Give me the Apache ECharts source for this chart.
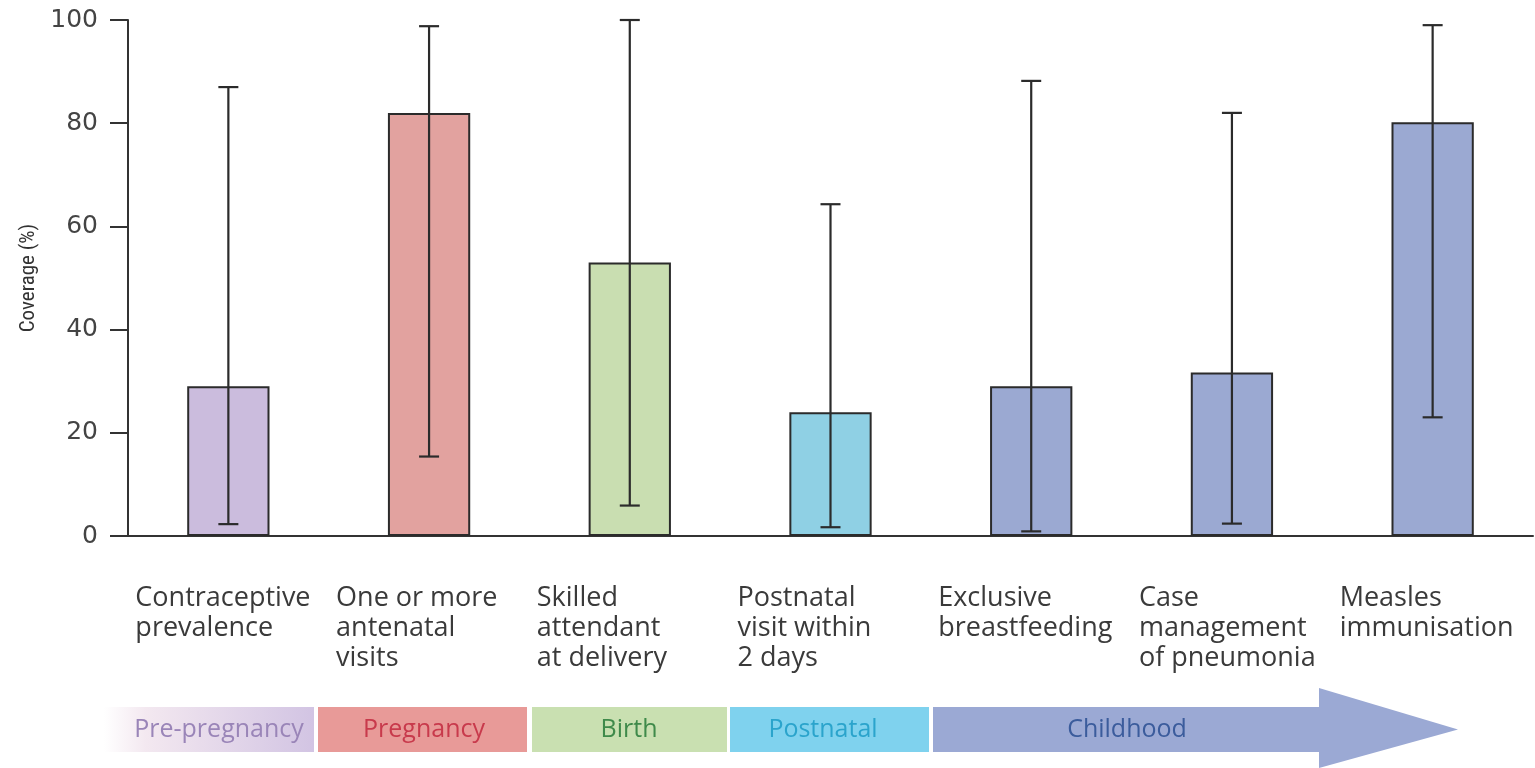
<!DOCTYPE html>
<html><head><meta charset="utf-8">
<script src="https://cdn.jsdelivr.net/npm/echarts@6/dist/echarts.min.js"></script>
<style>html,body{margin:0;padding:0;background:#fff}#c{width:1535px;height:768px}</style>
</head><body><div id="c"></div>
<script>
const categories = [
  "Contraceptive\nprevalence",
  "One or more\nantenatal\nvisits",
  "Skilled\nattendant\nat delivery",
  "Postnatal\nvisit within\n2 days",
  "Exclusive\nbreastfeeding",
  "Case\nmanagement\nof pneumonia",
  "Measles\nimmunisation"
];
const coverage = [29, 82, 53, 24, 29, 31.7, 80.2];
const lowerBound = [2.3, 15.4, 5.9, 1.7, 0.9, 2.4, 23];
const upperBound = [87, 98.8, 100, 64.3, 88.2, 82, 99];
const barColors = ["#cbbcdd", "#e2a29f", "#c9deb1", "#8fd0e4", "#9ba9d2", "#9ba9d2", "#9ba9d2"];
const yTicks = [0, 20, 40, 60, 80, 100];
const stages = ["Pre-pregnancy", "Pregnancy", "Birth", "Postnatal", "Childhood"];
const stageTextColors = ["#9a85b8", "#c83a4c", "#3f8a4a", "#2ba4cc", "#3b5c9c"];
const stageFill = ["#d4c6e4", "#e89a98", "#c9e0b1", "#7fd2ee", "#9ba9d4"];

const chart = echarts.init(document.getElementById('c'));
const FONT = "'Open Sans', 'Noto Sans', sans-serif";

const bandTop = 707, bandBot = 752;
const segs = [[104, 314], [318, 527], [532, 727], [730, 929], [933, 1320]];
const graphics = [];
segs.forEach((s, i) => {
  let fill = stageFill[i];
  if (i === 0) {
    fill = new echarts.graphic.LinearGradient(0, 0, 1, 0, [
      {offset: 0, color: '#ffffff'}, {offset: 0.2, color: '#f3e8f0'}, {offset: 1, color: '#d2c4e3'}
    ]);
  }
  graphics.push({type: 'rect', shape: {x: s[0], y: bandTop, width: s[1] - s[0], height: bandBot - bandTop}, style: {fill: fill}, silent: true});
});
graphics.push({type: 'polygon', shape: {points: [[1319, 688], [1458, 729.5], [1319, 768]]}, style: {fill: stageFill[4]}, silent: true});
const labelCenters = [219, 424, 629, 823, 1127];
stages.forEach((t, i) => {
  graphics.push({type: 'text', x: labelCenters[i], y: 730, style: {text: t, fill: stageTextColors[i], font: "25px " + FONT, textAlign: 'center', textVerticalAlign: 'middle'}, silent: true});
});

chart.setOption({
  animation: false,
  grid: {left: 128, right: 2, top: 20, bottom: 232},
  xAxis: {
    type: 'category',
    data: categories,
    axisLine: {lineStyle: {color: '#333', width: 2}},
    axisTick: {length: 13, lineStyle: {color: '#333', width: 2}},
    axisLabel: {
      interval: 0, margin: 47, color: '#3a3a3a', fontFamily: FONT, fontSize: 27, lineHeight: 30,
      verticalAlign: 'top',
      formatter: v => v.split('\n').map(l => '{a|' + l + '}').join('\n'),
      rich: {a: {width: 186, align: 'left', fontFamily: FONT, fontSize: 27, lineHeight: 30, color: '#3a3a3a'}}
    }
  },
  yAxis: {
    type: 'value', min: 0, max: 100, interval: 20,
    name: 'Coverage (%)', nameLocation: 'middle', nameGap: 86, nameRotate: 90,
    nameTextStyle: {color: '#333', fontFamily: "'Liberation Sans Narrow', 'Roboto Condensed', " + FONT, fontSize: 21},
    axisLine: {show: true, lineStyle: {color: '#333', width: 2}},
    axisTick: {show: true, length: 18, lineStyle: {color: '#333', width: 2}},
    axisLabel: {margin: 30, color: '#444', fontFamily: "'DejaVu Sans', sans-serif", fontSize: 25, formatter: v => yTicks.includes(v) ? String(v) : ''},
    splitLine: {show: false}
  },
  series: [
    {
      type: 'bar', barWidth: '41%',
      data: coverage.map((v, i) => ({value: v, itemStyle: {color: barColors[i]}})),
      itemStyle: {borderColor: '#2b2b2b', borderWidth: 2}
    },
    {
      type: 'custom', z: 10,
      data: categories.map((c, i) => [i, lowerBound[i], upperBound[i]]),
      renderItem: (params, api) => {
        const lo = api.coord([api.value(0), api.value(1)]);
        const hi = api.coord([api.value(0), api.value(2)]);
        const hw = 10;
        const st = {stroke: '#2b2b2b', lineWidth: 2.2};
        return {type: 'group', children: [
          {type: 'line', shape: {x1: lo[0], y1: lo[1], x2: hi[0], y2: hi[1]}, style: st},
          {type: 'line', shape: {x1: lo[0] - hw, y1: lo[1], x2: lo[0] + hw, y2: lo[1]}, style: st},
          {type: 'line', shape: {x1: hi[0] - hw, y1: hi[1], x2: hi[0] + hw, y2: hi[1]}, style: st}
        ]};
      }
    }
  ],
  graphic: graphics
});
</script></body></html>
